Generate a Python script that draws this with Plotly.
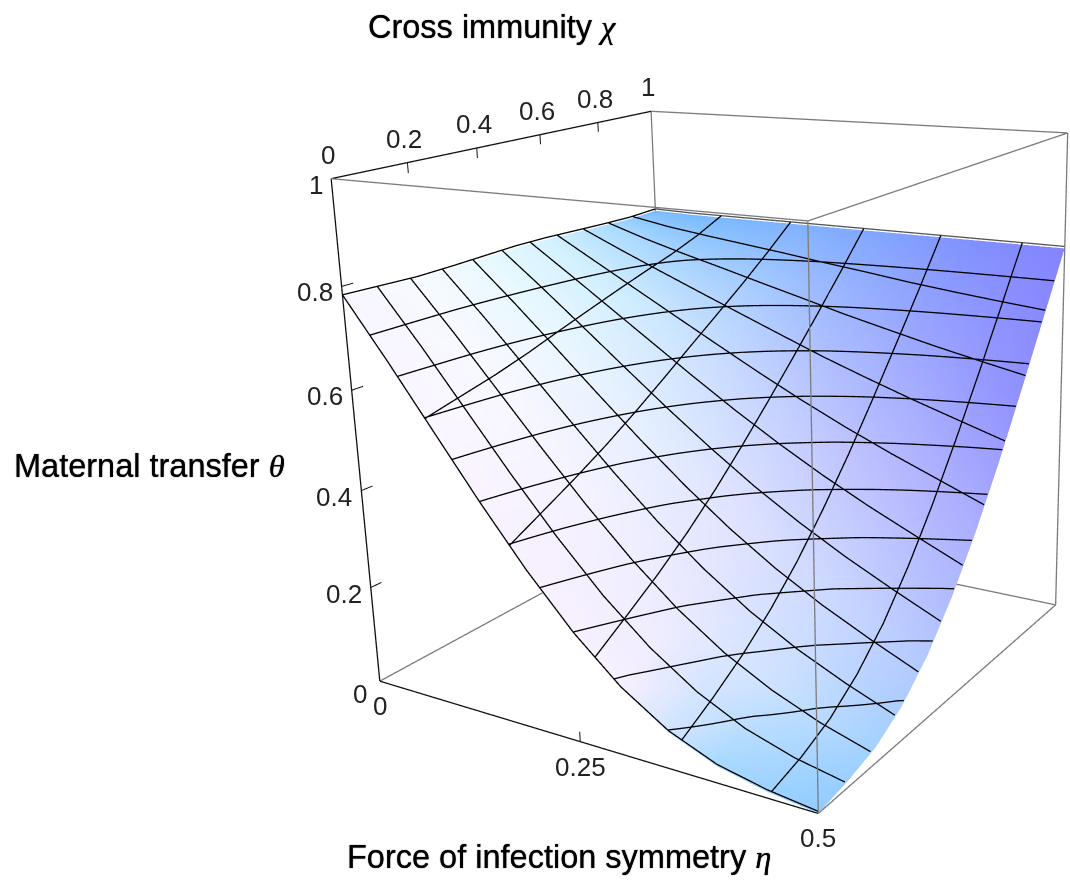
import numpy as np
import plotly.graph_objects as go

# --- data -------------------------------------------------------------------
eta = [0.00, 0.05, 0.10, 0.15, 0.20, 0.25, 0.30, 0.35, 0.40, 0.45, 0.50]
chi = [0.0, 0.1, 0.2, 0.3, 0.4, 0.5, 0.6, 0.7, 0.8, 0.9, 1.0]
theta = [
    [0.780, 0.777, 0.774, 0.775, 0.777, 0.779, 0.778, 0.775, 0.772, 0.770, 0.772],
    [0.665, 0.673, 0.680, 0.691, 0.703, 0.715, 0.725, 0.734, 0.742, 0.753, 0.770],
    [0.545, 0.563, 0.581, 0.602, 0.626, 0.649, 0.672, 0.694, 0.715, 0.740, 0.770],
    [0.425, 0.453, 0.482, 0.513, 0.547, 0.583, 0.619, 0.654, 0.690, 0.728, 0.770],
    [0.312, 0.349, 0.386, 0.426, 0.470, 0.517, 0.566, 0.615, 0.664, 0.716, 0.770],
    [0.212, 0.254, 0.297, 0.344, 0.397, 0.454, 0.514, 0.576, 0.639, 0.703, 0.770],
    [0.130, 0.174, 0.219, 0.271, 0.329, 0.395, 0.465, 0.538, 0.613, 0.691, 0.770],
    [0.070, 0.110, 0.154, 0.207, 0.269, 0.341, 0.419, 0.503, 0.590, 0.678, 0.770],
    [0.032, 0.063, 0.103, 0.153, 0.216, 0.292, 0.377, 0.470, 0.567, 0.667, 0.770],
    [0.012, 0.032, 0.062, 0.108, 0.169, 0.247, 0.338, 0.439, 0.546, 0.657, 0.770],
    [0.000, 0.012, 0.030, 0.067, 0.125, 0.204, 0.299, 0.408, 0.526, 0.648, 0.770],
]
eta_ticks = [0, 0.25, 0.5]
eta_labels = ["0", "0.25", "0.5"]
chi_ticks = [0, 0.2, 0.4, 0.6, 0.8, 1]
chi_labels = ["0", "0.2", "0.4", "0.6", "0.8", "1"]
theta_ticks = [0, 0.2, 0.4, 0.6, 0.8, 1]
theta_labels = ["0", "0.2", "0.4", "0.6", "0.8", "1"]
eta_mesh = [1 / 11, 2 / 11, 3 / 11, 4 / 11, 5 / 11]
chi_mesh = [k / 11 for k in range(1, 11)]
theta_levels = [0.071, 0.142, 0.213, 0.284, 0.355, 0.426, 0.497, 0.568, 0.639, 0.710]

# surface shading, rows eta 0..0.5 by 0.1, columns chi 0..1 by 0.2
shade_eta = [0.0, 0.1, 0.2, 0.3, 0.4, 0.5]
shade_chi = [0.0, 0.2, 0.4, 0.6, 0.8, 1.0]
shade = [
    ["f8f6ff", "f6fbff", "e8faff", "d4f2ff", "aedfff", "78baff"],
    ["fbf6ff", "f8f8ff", "e8f6ff", "d0eeff", "a8d4ff", "78b8ff"],
    ["f8f0ff", "f4f2ff", "e4eeff", "cce0ff", "a8ccff", "80b0ff"],
    ["f6f0ff", "eaeaff", "dfe3ff", "c4cfff", "a4b8ff", "80a4ff"],
    ["a8d8ff", "cce2ff", "ccd8ff", "bcbeff", "9ca6ff", "8090ff"],
    ["90ccff", "a4d2ff", "b4c8ff", "acaeff", "9090ff", "8484ff"],
]

# --- figure geometry -----------------------------------------------------------
FIG = 1432          # scene size needed for the reference's long lens
TOP = 315           # part of the figure above the visible window
OFFSET = 0.004      # lift of the mesh lines above the shaded sheet
MESH_COLOR = "#000000"
BOX_COLOR = "#7c7c7c"
MESH_W = 2.6
BOX_W = 2.6

Z = np.array(theta)
E, C = np.meshgrid(eta, chi, indexing="ij")
n, m = Z.shape


def rgb(h):
    return np.array([int(h[i:i + 2], 16) for i in (0, 2, 4)], float)


S = np.array([[rgb(h) for h in row] for row in shade])
vc = []
for e in eta:
    col = np.array([[np.interp(e, shade_eta, S[:, j, c]) for c in range(3)] for j in range(S.shape[1])])
    for c_ in chi:
        v = [np.interp(c_, shade_chi, col[:, c]) for c in range(3)]
        vc.append("rgb(%d,%d,%d)" % tuple(v))

I, J, K = [], [], []
for a in range(n - 1):
    for b in range(m - 1):
        p = a * m + b
        I += [p, p]
        J += [p + 1, p + m + 1]
        K += [p + m + 1, p + m]

fig = go.Figure()
fig.add_trace(go.Mesh3d(
    x=E.ravel(), y=C.ravel(), z=Z.ravel(), i=I, j=J, k=K, vertexcolor=vc,
    lighting=dict(ambient=1, diffuse=0, specular=0, roughness=1, fresnel=0),
    flatshading=False, hoverinfo="skip", showscale=False,
))


def line(xs, ys, zs, color="#000000", width=2):
    fig.add_trace(go.Scatter3d(x=xs, y=ys, z=zs, mode="lines", line=dict(color=color, width=width),
                               hoverinfo="skip", showlegend=False))


def row_at(e):
    return np.array([np.interp(e, eta, Z[:, b]) for b in range(m)])


def col_at(c_):
    return np.array([np.interp(c_, chi, Z[a, :]) for a in range(n)])


mx, my, mz = [], [], []
for e in eta_mesh:                       # constant eta
    r = row_at(e)
    mx += [e] * m + [None]; my += chi + [None]; mz += list(r + OFFSET) + [None]
for c_ in chi_mesh:                      # constant chi
    r = col_at(c_)
    mx += eta + [None]; my += [c_] * n + [None]; mz += list(r + OFFSET) + [None]
fine = np.linspace(0, 0.5, 201)
for L in theta_levels:                   # constant theta
    e0 = np.interp(-L, -Z[:, 0], eta)    # where the level meets the chi = 0 side
    es = [e0] + [e for e in fine if e > e0]
    for e in es:
        r = np.maximum.accumulate(row_at(e))
        mx.append(e); my.append(np.interp(L, r, chi)); mz.append(L + OFFSET)
    mx.append(None); my.append(None); mz.append(None)
line(mx, my, mz, MESH_COLOR, MESH_W)

# sheet outline on the three sides that have one
line(eta, [0.0] * n, Z[:, 0] + OFFSET, MESH_COLOR, MESH_W)
line([0.0] * m, chi, Z[0, :] + OFFSET, MESH_COLOR, MESH_W)
line(eta, [1.0] * n, Z[:, -1] + OFFSET, "#555555", MESH_W)

# grey box edges
bx = [0, 0, None, 0.5, 0.5, None, 0.5, 0.5, None, 0, 0.5, None, 0.5, 0.5, None, 0, 0.5, None, 0, 0.5, None, 0, 0, None, 0.5, 0.5]
by = [0, 1, None, 0, 1, None, 1, 1, None, 0, 0, None, 0, 1, None, 1, 1, None, 1, 1, None, 1, 1, None, 0, 0]
bz = [0, 0, None, 0, 0, None, 0, 1, None, 1, 1, None, 1, 1, None, 1, 1, None, 0, 0, None, 0, 1, None, 0, 1]
line(bx, by, bz, BOX_COLOR, BOX_W)
# labelled box edges
line([0, 0.5], [0, 0], [0, 0], "#111111", MESH_W)
line([0, 0], [0, 1], [1, 1], "#111111", MESH_W)
line([0, 0], [0, 0], [0, 1], "#111111", MESH_W)
# tick marks
tx, ty, tz = [], [], []
for c_ in chi_ticks[1:-1]:
    tx += [0, 0, None]; ty += [c_, c_, None]; tz += [1, 0.98, None]
for t_ in theta_ticks[1:-1]:
    tx += [0, 0, None]; ty += [0, 0.03, None]; tz += [t_, t_, None]
tx += [0.25, 0.25, None]; ty += [0, 0, None]; tz += [0, 0.02, None]
line(tx, ty, tz, "#111111", 2)

ax = dict(visible=True, showbackground=False, showgrid=False, zeroline=False, showticklabels=False,
          ticks="", ticklen=0, tickmode="array", tickvals=[], showline=False, showspikes=False,
          title=dict(text=""), autorange=False)

TICK_FONT = dict(family="Liberation Sans", size=26, color="#222222")
ann3d = []
for v, s in zip(chi_ticks, chi_labels):
    ann3d.append(dict(x=0, y=v, z=1, text=s, showarrow=False, yshift=24, xshift=-3, font=TICK_FONT))
for v, s in zip(theta_ticks[1:], theta_labels[1:]):
    if s != "1":
        ann3d.append(dict(x=0, y=0, z=v, text=s, showarrow=False, xshift=-27, yshift=-6, font=TICK_FONT))
ann3d.append(dict(x=0, y=0, z=1, text="1", showarrow=False, xshift=-15, yshift=-6, font=TICK_FONT))
ann3d.append(dict(x=0, y=0, z=0, text="0", showarrow=False, xshift=-20, yshift=-13, font=TICK_FONT))
for v, s in zip(eta_ticks, eta_labels):
    ann3d.append(dict(x=v, y=0, z=0, text=s, showarrow=False, yshift=-25, font=TICK_FONT))

MATH = "font-family:'Liberation Serif';font-style:italic"
TITLE_FONT = dict(family="Liberation Sans", size=32.5, color="#000000", shadow="0 0 1px #000000")


def title(text, x, y):
    return dict(text=text, xref="paper", yref="paper", x=x / FIG, y=1 - (y + TOP) / FIG, showarrow=False,
                xanchor="left", yanchor="middle", font=TITLE_FONT)


fig.update_layout(
    width=FIG, height=FIG, margin=dict(l=0, r=0, t=0, b=0), paper_bgcolor="white", showlegend=False,
    scene=dict(
        domain=dict(x=[0, 1], y=[0, 1]),
        xaxis=dict(ax, range=[0, 0.5]), yaxis=dict(ax, range=[0, 1]), zaxis=dict(ax, range=[0, 1]),
        aspectmode="manual", aspectratio=dict(x=1.0040, y=0.9954, z=1.0),
        camera=dict(eye=dict(x=1.8191, y=-2.7003, z=0.9879), center=dict(x=-0.0116, y=-0.0026, z=0.0146),
                    up=dict(x=-0.1324, y=0.2557, z=0.9577)),
        annotations=ann3d,
    ),
    annotations=[
        title("Cross immunity <span style=\"%s\">χ</span>" % MATH, 366, 27),
        title("Maternal transfer <span style=\"%s\">θ</span>" % MATH, 12, 466),
        title("Force of infection symmetry <span style=\"%s\">η</span>" % MATH, 345, 857),
    ],
)

post = ("document.documentElement.style.overflow='hidden';document.body.style.overflow='hidden';"
        "document.body.style.margin='0';"
        "document.getElementsByClassName('plotly-graph-div')[0].style.marginTop='-%dpx';" % TOP)
fig.write_html("out.html", post_script=post)
